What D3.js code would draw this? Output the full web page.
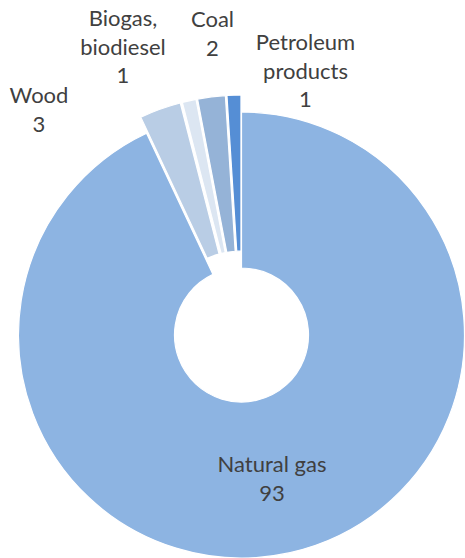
<!DOCTYPE html>
<html>
<head>
<meta charset="utf-8">
<script src="https://cdn.jsdelivr.net/npm/d3@7/dist/d3.min.js"></script>
<style>
  html, body { margin: 0; padding: 0; background: #fff; }
  svg { display: block; }
</style>
</head>
<body>
<svg id="chart" width="465" height="558"></svg>
<script>
// Energy sources, share in percent
const categories = ["Natural gas", "Wood", "Biogas, biodiesel", "Coal", "Petroleum products"];
const values = [93, 3, 1, 2, 1];
const colors = ["#8DB4E2", "#B9CDE5", "#DCE6F2", "#95B3D7", "#558ED5"];

// Label text lines per slice (category name wrapped, then value)
const labelLines = [["Natural gas"], ["Wood"], ["Biogas,", "biodiesel"], ["Coal"], ["Petroleum", "products"]];
// Label anchors: text-block centre x and first baseline y
const labelAnchor = [[272, 472], [39, 103], [123, 26], [212.5, 27], [305.5, 50]];

const width = 465, height = 558;
const cx = 241.5, cy = 335;
const outerR = 223, innerR = 67;
const explode = 17;
const lineH = 28.5;

const svg = d3.select("#chart");
const g = svg.append("g").attr("transform", `translate(${cx},${cy})`);

const pie = d3.pie().sort(null).value(d => d);
const arcs = pie(values);
const arc = d3.arc().innerRadius(innerR).outerRadius(outerR);

// every slice except the first is pulled out along its bisector
function offset(d, i) {
  if (i === 0) return [0, 0];
  const mid = (d.startAngle + d.endAngle) / 2;
  return [Math.sin(mid) * explode, -Math.cos(mid) * explode];
}

g.selectAll("path.slice")
  .data(arcs)
  .join("path")
  .attr("class", "slice")
  .attr("d", arc)
  .attr("transform", (d, i) => { const o = offset(d, i); return `translate(${o[0]},${o[1]})`; })
  .attr("fill", (d, i) => colors[i])
  .attr("stroke", "#fff")
  .attr("stroke-width", 1.2)
  .attr("stroke-linejoin", "round");

// data labels
const labels = svg.append("g")
  .attr("font-family", "Lato, 'Open Sans', sans-serif")
  .attr("font-size", 22)
  .attr("fill", "#404040")
  .attr("text-anchor", "middle");

categories.forEach((c, i) => {
  const lines = labelLines[i].concat([String(values[i])]);
  const t = labels.append("text")
    .attr("x", labelAnchor[i][0])
    .attr("y", labelAnchor[i][1]);
  lines.forEach((ln, k) => {
    t.append("tspan")
      .attr("x", labelAnchor[i][0])
      .attr("y", labelAnchor[i][1] + k * lineH)
      .text(ln);
  });
});
</script>
</body>
</html>
